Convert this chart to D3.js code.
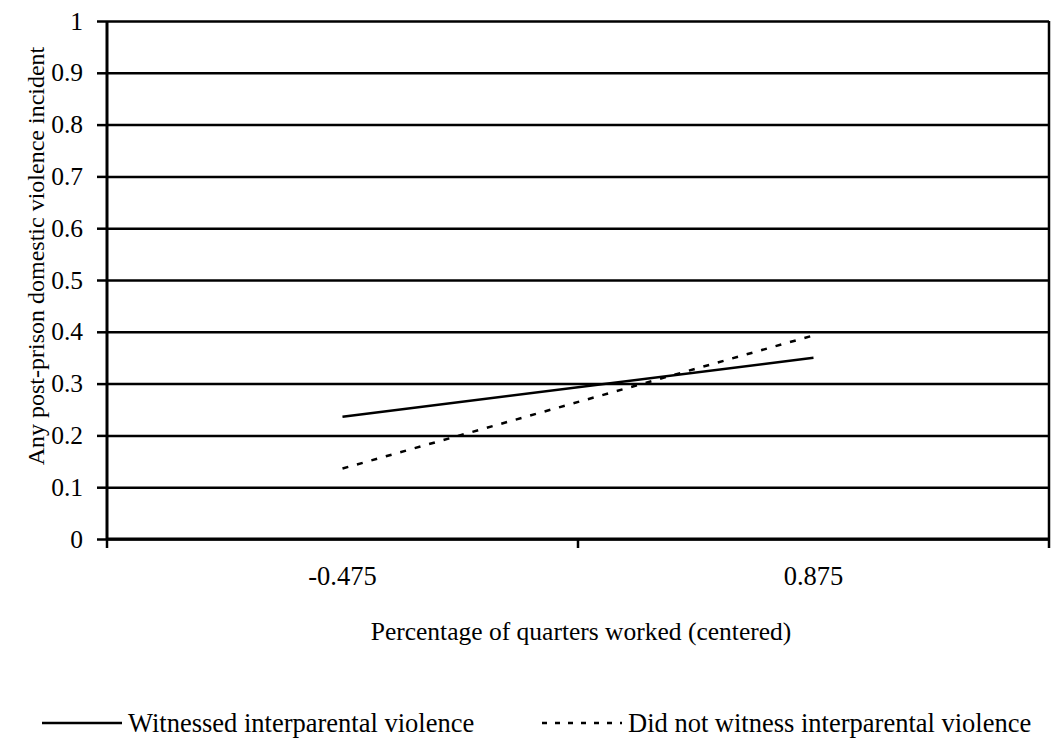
<!DOCTYPE html>
<html>
<head>
<meta charset="utf-8">
<script src="https://cdn.jsdelivr.net/npm/d3@7"></script>
</head>
<body style="margin:0; background:#fff">
<svg id="chart" width="1054" height="751"></svg>
<script>
const categories = ['-0.475', '0.875'];
const witnessed = [0.236, 0.350];
const notWitnessed = [0.136, 0.393];
const yTicks = [0, 0.1, 0.2, 0.3, 0.4, 0.5, 0.6, 0.7, 0.8, 0.9, 1];

const series = [
	{name: 'Witnessed interparental violence', values: witnessed, dash: null},
	{name: 'Did not witness interparental violence', values: notWitnessed, dash: '6,9'}
];

const font = 'Liberation Serif';

const margin = {top: 21, right: 5, bottom: 212, left: 107};
const width = 1054 - margin.left - margin.right;
const height = 751 - margin.top - margin.bottom;

const svg = d3.select('#chart');
const g = svg.append('g')
	.attr('transform', `translate(${margin.left},${margin.top})`);

let x = d3.scaleBand()
	.domain(categories)
	.range([0, width])
	.padding(0);

let y = d3.scaleLinear()
	.domain([0, 1])
	.range([height, 0]);

// gridlines
g.append('g')
	.call(d3.axisLeft(y).tickValues(yTicks).tickSize(-width).tickFormat(''))
	.call(s => s.select('.domain').remove())
	.call(s => s.selectAll('line').attr('stroke', '#000').attr('stroke-width', 2.5));

// y axis
let yAxis = g.append('g')
	.call(d3.axisLeft(y).tickValues(yTicks).tickSize(10).tickPadding(14).tickFormat(d3.format('')))
	.attr('font-family', font)
	.attr('font-size', 25.5);
yAxis.select('.domain').attr('stroke', '#000').attr('stroke-width', 3).attr('d', `M0,0V${height}`);
yAxis.selectAll('line').attr('stroke', '#000').attr('stroke-width', 2.5);

// x axis
let xAxis = g.append('g')
	.attr('transform', `translate(0,${height})`)
	.call(d3.axisBottom(x).tickSize(0).tickPadding(27))
	.attr('font-family', font)
	.attr('font-size', 26.5);
xAxis.select('.domain').attr('stroke', '#000').attr('stroke-width', 3).attr('d', `M0,0H${width}`);

// category boundary ticks
let bounds = d3.range(categories.length + 1).map(i => i * x.step());
g.selectAll('.xtick')
	.data(bounds)
	.enter().append('line')
	.attr('x1', d => d).attr('x2', d => d)
	.attr('y1', height).attr('y2', height + 9)
	.attr('stroke', '#000').attr('stroke-width', 2.5);

// right border
g.append('line')
	.attr('x1', width).attr('x2', width)
	.attr('y1', 0).attr('y2', height)
	.attr('stroke', '#000').attr('stroke-width', 2.5);

// lines
let line = d3.line()
	.x((d, i) => x(categories[i]) + x.bandwidth() / 2)
	.y(d => y(d));

g.selectAll('.series')
	.data(series)
	.enter().append('path')
	.attr('d', d => line(d.values))
	.attr('fill', 'none')
	.attr('stroke', '#000')
	.attr('stroke-width', 2.5)
	.attr('stroke-dasharray', d => d.dash);

// axis titles
svg.append('text')
	.attr('x', margin.left + width / 2 + 3)
	.attr('y', 640)
	.attr('text-anchor', 'middle')
	.attr('font-family', font)
	.attr('font-size', 25.5)
	.text('Percentage of quarters worked (centered)');

svg.append('text')
	.attr('transform', 'translate(44,256) rotate(-90)')
	.attr('text-anchor', 'middle')
	.attr('font-family', font)
	.attr('font-size', 24)
	.text('Any post-prison domestic violence incident');

// legend
let legendX = [42, 542];
let legend = svg.selectAll('.legend')
	.data(series)
	.enter().append('g')
	.attr('transform', (d, i) => `translate(${legendX[i]},723)`);

legend.append('line')
	.attr('x1', 0).attr('x2', 80)
	.attr('stroke', '#000')
	.attr('stroke-width', 2.5)
	.attr('stroke-dasharray', d => d.dash ? '5,8' : null);

legend.append('text')
	.attr('x', 86)
	.attr('dy', '0.35em')
	.attr('font-family', font)
	.attr('font-size', 26.5)
	.text(d => d.name);
</script>
</body>
</html>
